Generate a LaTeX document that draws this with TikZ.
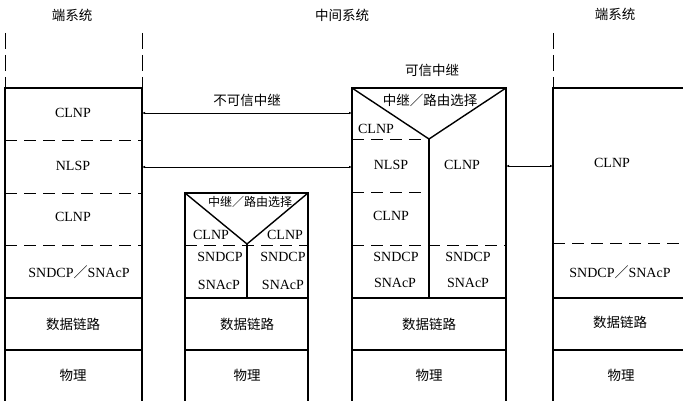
\documentclass[tikz,border=0pt]{standalone}
\usepackage{fontspec}
\setmainfont{Liberation Serif}
\newfontfamily\cjk{Noto Sans CJK SC}
\usetikzlibrary{arrows.meta}
\begin{document}
\begin{tikzpicture}[x=1pt,y=-1pt,
  frame/.style={line width=1.6pt},
  sep/.style={line width=1.4pt},
  dline/.style={line width=0.9pt, dash pattern=on 12pt off 7pt},
  vdash/.style={line width=1pt, dash pattern=on 16pt off 6pt},
  lt/.style={font=\fontsize{14}{16}\selectfont, inner sep=0pt},
  cn/.style={font=\cjk\fontsize{13.5}{15}\selectfont, inner sep=0pt},
  cns/.style={font=\cjk\fontsize{12}{13}\selectfont, inner sep=0pt},
  conn/.style={line width=0.8pt, {Latex[length=3pt,width=2.4pt]}-{Latex[length=3pt,width=2.4pt]}}]
\useasboundingbox (0,0) rectangle (683,401);

% titles
\node[cn] (t1) at (72,15) {端系统};
\node[cn] (t2) at (342,15) {中间系统};
\node[cn] (t3) at (615,14) {端系统};

% vertical dashed guides
\draw[vdash] (5,33) -- (5,88);
\draw[vdash] (142,33) -- (142,88);
\draw[vdash] (553,33) -- (553,88);

% ---------- left end system ----------
\draw[frame] (5,401) -- (5,88) -- (142,88) -- (142,401);
\draw[dline] (5,140) -- (142,140);
\draw[dline] (5,193) -- (142,193);
\draw[dline] (5,245) -- (142,245);
\draw[sep] (5,298) -- (142,298);
\draw[sep] (5,350) -- (142,350);
\node[lt] (l1) at (73,113) {CLNP};
\node[lt] (l2) at (73,166) {NLSP};
\node[lt] (l3) at (73,217) {CLNP};
\node[lt] (l4) at (79,272) {SNDCP{\cjk ／}SNAcP};
\node[cn] (l5) at (73,324) {数据链路};
\node[cn] (l6) at (73,375) {物理};

% ---------- small intermediate system ----------
\draw[frame] (185,401) -- (185,193) -- (308,193) -- (308,401);
\draw[sep] (185,193) -- (247,244) -- (308,193);
\draw[sep] (247,244) -- (247,298);
\draw[dline] (185,245) -- (308,245);
\draw[sep] (185,298) -- (308,298);
\draw[sep] (185,350) -- (308,350);
\node[cns] (m1) at (250,202) {中继／路由选择};
\node[lt] (m2) at (211,235) {CLNP};
\node[lt] (m3) at (285,235) {CLNP};
\node[lt] (m4) at (220,257) {SNDCP};
\node[lt] (m5) at (283,257) {SNDCP};
\node[lt] (m6) at (219,285) {SNAcP};
\node[lt] (m7) at (283,285) {SNAcP};
\node[cn] (m8) at (247,324) {数据链路};
\node[cn] (m9) at (247,375) {物理};

% ---------- trusted relay system ----------
\node[cn] (tr) at (432,70) {可信中继};
\draw[frame] (352,401) -- (352,88) -- (506,88) -- (506,401);
\draw[sep] (352,88) -- (429,139) -- (506,88);
\draw[sep] (429,139) -- (429,298);
\draw[dline] (352,139) -- (429,139);
\draw[dline] (352,192) -- (429,192);
\draw[dline] (352,245) -- (506,245);
\draw[sep] (352,298) -- (506,298);
\draw[sep] (352,350) -- (506,350);
\node[cn] (r1) at (430,100) {中继／路由选择};
\node[lt] (r2) at (376,129) {CLNP};
\node[lt] (r3) at (391,165) {NLSP};
\node[lt] (r4) at (462,165) {CLNP};
\node[lt] (r5) at (391,216) {CLNP};
\node[lt] (r6) at (396,257) {SNDCP};
\node[lt] (r7) at (468,257) {SNDCP};
\node[lt] (r8) at (395,283) {SNAcP};
\node[lt] (r9) at (468,283) {SNAcP};
\node[cn] (r10) at (429,324) {数据链路};
\node[cn] (r11) at (429,375) {物理};

% ---------- right end system ----------
\draw[frame] (553,401) -- (553,88) -- (683,88);
\draw[dline] (553,243) -- (683,243);
\draw[sep] (553,298) -- (683,298);
\draw[sep] (553,350) -- (683,350);
\node[lt] (e1) at (612,163) {CLNP};
\node[lt] (e2) at (620,272) {SNDCP{\cjk ／}SNAcP};
\node[cn] (e3) at (620,322) {数据链路};
\node[cn] (e4) at (621,375) {物理};

% ---------- connectors ----------
\coordinate (a1) at (142,113);
\coordinate (a2) at (352,113);
\coordinate (b1) at (142,167);
\coordinate (b2) at (352,167);
\coordinate (c1) at (506,166);
\coordinate (c2) at (553,166);
\draw[conn] (a1) -- (a2);
\draw[conn] (b1) -- (b2);
\draw[conn] (c1) -- (c2);
\node[cn] (ut) at (247,100) {不可信中继};
\end{tikzpicture}
\end{document}
